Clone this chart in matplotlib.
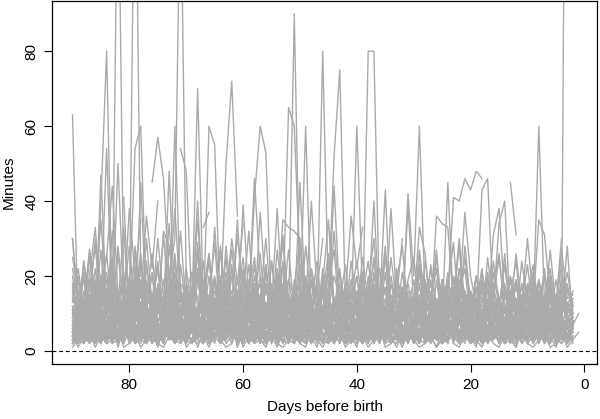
import matplotlib
matplotlib.use("Agg")
import matplotlib.pyplot as plt
import numpy as np

plt.rcParams['font.family'] = ['Liberation Sans', 'DejaVu Sans']

# minutos por día, una serie por sujeto (día 90 -> día 2)
d01 = [8,5,12,3,7,10,4,6,15,9, 5,3,8,11,6,4,9,7,13,5, 6,10,4,8,3,7,12,6,5,9, 4,8,11,5,3,7,10,6,14,8, 5,9,4,7,12,6,3,8,10,5, 7,4,9,13,6,5,8,3,11,7, 6,10,4,8,5,12,7,3,9,6, 8,5,11,4,7,10,6,3,9,5, 7,12,4,8,6,10,5,7,9]
d02 = [3,9,6,14,5,2,8,11,4,7, 10,6,3,9,5,12,7,4,8,6, 2,11,7,5,9,3,6,10,4,8, 13,5,7,2,9,6,11,4,8,3, 10,7,5,12,4,6,9,3,7,11, 5,8,2,10,6,4,9,7,13,5, 3,8,6,11,4,7,2,9,5,10, 6,3,8,12,5,7,4,9,6,3, 11,5,8,4,7,10,3,6,8]
d03 = [18,7,4,10,22,9,5,13,8,16, 6,11,19,7,4,14,9,21,6,10, 15,5,8,17,12,6,20,9,4,13, 7,16,10,5,18,8,12,24,6,9, 14,5,11,19,7,10,4,16,8,13, 6,21,9,5,12,17,7,10,15,4, 9,18,6,11,14,5,20,8,10,16, 6,13,4,19,9,7,15,11,5,12, 17,8,6,14,10,5,18,9,7]
d04 = [5,2,6,4,9,3,5,7,2,8, 4,6,3,10,5,2,7,4,6,9, 3,5,8,2,6,4,11,3,7,5, 2,9,4,6,3,8,5,2,7,4, 10,3,6,5,2,8,4,7,3,9, 5,2,6,4,8,3,7,5,2,10, 4,6,3,9,5,2,7,4,8,3, 6,5,2,9,4,7,3,6,5,8, 2,4,7,3,6,5,9,2,4]
d05 = [12,8,20,6,11,15,9,25,7,13, 10,18,6,9,14,22,8,12,7,16, 11,5,19,9,13,8,27,10,6,15, 12,9,17,7,21,11,8,14,6,10, 19,7,13,24,9,11,6,16,8,12, 20,7,10,15,9,6,18,11,8,13, 7,23,10,9,14,6,12,17,8,11, 15,9,6,21,10,13,7,16,9,12, 8,19,11,6,14,9,17,7,10]
d06 = [2,4,3,6,2,5,3,7,4,2, 6,3,5,2,8,4,3,6,2,5, 4,7,3,2,6,4,5,3,9,2, 4,6,3,5,2,7,4,3,6,2, 5,8,3,4,2,6,3,5,7,2, 4,3,6,2,5,4,8,3,2,6, 3,5,4,2,7,3,6,4,2,5, 3,8,2,4,6,3,5,2,7,4, 3,6,2,5,4,3,7,2,4]
d07 = [9,14,6,11,8,17,5,10,13,7, 16,9,6,12,20,8,11,5,15,9, 7,13,10,18,6,9,12,8,23,7, 11,14,6,10,9,16,7,12,5,19, 10,8,13,6,15,9,11,22,7,10, 14,6,9,17,8,12,5,11,16,9, 7,13,10,6,19,8,12,9,15,6, 10,14,7,11,18,8,6,13,10,9, 16,7,12,5,11,14,8,10,6]
d08 = [4,7,10,5,3,8,6,12,4,9, 5,3,7,11,6,4,8,13,5,7, 3,9,6,4,10,7,5,3,8,12, 6,4,9,5,7,3,11,6,8,4, 5,10,3,7,6,9,4,12,5,8, 3,6,10,4,7,5,9,3,8,11, 6,4,7,5,13,3,8,6,4,9, 7,5,10,3,6,8,4,11,5,7, 3,9,6,4,8,5,10,3,6]
d09 = [30,12,8,17,10,6,14,21,9,11, 7,15,26,8,12,10,19,6,13,9, 22,11,7,16,10,14,8,28,12,6, 10,17,9,13,7,24,11,8,15,10, 6,18,12,9,20,7,11,14,8,16, 10,6,13,25,9,11,7,17,10,12, 8,21,9,14,6,11,16,8,19,10, 7,13,22,9,11,6,15,10,8,18, 12,7,14,9,20,6,11,13,8]
d10 = [6,3,5,8,4,6,2,7,5,9, 3,6,4,8,5,2,7,6,4,10, 5,3,8,4,6,7,2,5,9,4, 6,3,7,5,8,2,6,4,9,5, 3,7,6,4,8,5,2,10,6,3, 7,5,4,8,6,3,9,5,7,2, 6,4,8,5,3,7,6,9,4,5, 2,8,6,3,7,5,4,9,6,3, 5,8,4,7,2,6,5,3,8]
d11 = [14,10,24,8,16,12,19,9,28,13, 11,17,8,22,14,10,31,12,9,18, 15,11,26,8,13,20,10,16,12,35, 9,14,18,11,23,8,15,12,19,10, 28,13,9,17,11,21,14,8,16,12, 10,25,13,18,9,14,11,22,8,16, 13,10,19,12,27,9,15,11,17,14, 8,20,12,10,24,13,16,9,18,11, 14,21,10,15,8,19,12,13,11]
d12 = [3,6,2,4,7,3,5,2,6,4, 8,3,5,2,4,7,3,6,2,5, 4,3,7,2,5,4,6,3,8,2, 5,4,3,6,2,7,4,5,3,2, 6,4,8,3,5,2,4,6,3,7, 2,5,4,3,6,8,2,4,5,3, 7,2,6,4,3,5,2,8,4,6, 3,5,2,7,4,3,6,5,2,4, 8,3,5,2,6,4,3,7,2]
d13 = [10,16,7,12,9,20,6,11,15,8, 13,9,18,7,10,14,6,12,9,17, 8,11,22,7,13,10,15,9,6,12, 19,8,10,14,7,11,16,9,13,6, 10,18,8,12,15,7,9,21,11,8, 14,10,6,13,17,9,11,7,15,10, 12,8,19,6,10,14,9,12,7,16, 11,8,13,20,9,10,7,15,12,8, 11,17,6,13,9,10,14,8,12]
d14 = [5,9,4,7,12,5,8,3,10,6, 4,8,13,5,7,3,9,6,11,4, 7,5,10,3,8,6,12,4,9,5, 7,11,3,6,8,4,10,5,7,13, 4,6,9,3,8,5,11,7,4,6, 9,3,7,12,5,8,4,10,6,3, 8,5,11,4,7,9,3,6,10,5, 8,4,7,12,3,6,9,5,8,4, 10,6,3,8,5,11,4,7,6]
d15 = [20,8,13,27,10,15,9,19,12,33, 8,14,11,24,9,17,13,8,21,11, 16,9,29,12,10,18,8,14,22,11, 9,16,13,26,10,8,19,12,15,9, 23,11,14,8,18,10,32,12,9,16, 11,20,8,14,10,25,13,9,17,11, 8,22,12,15,9,19,10,13,28,8, 14,11,17,9,21,12,10,16,8,24, 13,9,18,11,15,8,20,12,9]
d16 = [2,5,3,8,4,2,6,3,5,7, 2,4,6,3,9,2,5,4,3,7, 2,6,4,5,3,8,2,4,6,3, 5,2,7,4,3,6,2,9,4,5, 3,2,6,4,7,3,5,2,8,4, 3,6,2,5,4,7,3,2,6,5, 4,3,8,2,5,6,3,4,2,7, 5,3,6,2,4,8,3,5,2,6, 4,3,7,5,2,6,4,3,5]
d17 = [7,11,5,9,14,6,10,4,12,8, 6,15,9,5,11,7,13,4,10,8, 12,6,9,16,5,8,11,7,14,6, 9,4,12,8,10,6,17,7,11,5, 8,13,6,10,9,5,14,7,12,8, 4,11,9,6,15,7,10,5,13,8, 6,12,9,4,11,7,16,8,10,5, 9,13,6,11,7,14,8,5,12,9, 6,10,15,7,8,11,5,9,7]
d18 = [4,3,6,5,2,7,4,9,3,5, 6,2,8,4,5,3,7,6,2,4, 9,5,3,6,4,8,2,5,7,3, 4,6,2,9,5,3,7,4,6,2, 5,8,3,4,6,7,2,5,3,9, 4,6,5,2,8,3,4,7,5,2, 6,3,9,4,5,2,7,6,3,4, 8,5,2,6,4,3,7,5,9,2, 4,6,3,5,8,2,4,6,3]
d19 = [15,22,11,9,18,13,26,10,14,19, 12,8,23,15,11,17,9,28,13,10, 16,21,12,9,14,19,11,25,8,15, 13,10,20,12,17,9,14,31,11,16, 10,19,13,8,22,14,11,18,9,15, 24,12,10,17,13,9,20,11,16,14, 10,27,12,15,9,19,13,11,22,10, 16,12,18,9,14,25,11,13,17,10, 15,20,12,9,16,11,14,18,10]
d20 = [6,9,5,12,7,4,10,8,5,13, 7,6,9,4,11,8,5,7,12,6, 9,5,10,7,4,13,6,8,5,11, 7,9,4,12,6,8,10,5,7,14, 6,9,5,11,8,4,10,7,6,12, 5,9,7,4,13,8,6,10,5,9, 7,12,4,8,6,11,9,5,7,13, 6,8,4,10,7,9,5,12,6,8, 11,4,7,9,6,10,5,8,7]
d21 = [11,7,9,13,8,18,10,6,14,9, 20,8,12,10,7,16,11,9,24,8, 13,10,7,15,12,9,19,8,11,14, 7,10,17,9,12,8,22,10,13,7, 11,15,9,8,18,12,10,7,14,9, 13,11,8,21,10,7,12,16,9,11, 8,14,10,19,7,12,9,11,15,8, 10,13,7,17,9,11,8,14,10,12, 9,16,8,11,13,7,10,12,9]
d22 = [2,3,5,2,4,3,6,2,3,4, 5,2,3,7,2,4,3,5,2,6, 3,2,4,5,2,3,6,2,4,3, 5,2,7,3,2,4,5,3,2,6, 3,4,2,5,3,2,6,4,2,3, 5,2,4,3,7,2,3,5,2,4, 6,3,2,4,5,2,3,6,2,4, 3,5,2,3,4,6,2,3,5,2, 4,3,6,2,5,3,2,4,3]
d23 = [9,6,16,11,7,13,21,8,10,15, 9,12,7,18,10,14,8,11,26,9, 13,7,10,16,12,8,14,9,20,11, 7,13,10,15,8,24,12,9,11,17, 8,10,14,7,19,12,9,13,10,8, 16,11,7,14,22,9,12,10,8,15, 11,9,17,7,13,10,21,8,12,14, 9,11,7,16,10,13,8,19,11,9, 14,7,12,10,17,8,13,11,9]
d24 = [5,7,4,6,9,3,5,8,4,6, 10,5,3,7,4,6,9,5,3,8, 4,6,5,11,3,7,4,6,8,5, 3,9,4,6,5,7,3,10,4,6, 5,8,3,7,4,5,9,6,3,4, 7,5,6,10,4,3,8,5,6,4, 9,3,5,7,4,6,3,8,5,4, 6,10,3,5,7,4,6,9,3,5, 4,7,6,3,8,5,4,6,7]
e01 = [7,3,9,5,2,11,6,4,8,3, 12,5,7,2,9,4,10,6,3,8, 5,13,4,7,2,6,9,3,11,5, 8,2,6,10,4,7,3,12,5,9, 2,6,8,4,11,3,7,5,10,2, 6,9,4,8,3,12,5,7,2,10, 4,6,9,3,7,5,11,2,8,4, 6,10,3,7,5,9,2,8,4,12, 6,3,9,5,7,2,10,4,6]
e02 = [10,4,7,13,5,9,3,8,16,6, 4,11,7,5,14,3,9,6,12,4, 8,17,5,10,3,7,13,6,4,9, 15,5,8,3,11,7,4,18,6,9, 5,12,3,8,6,14,4,10,7,5, 13,3,9,6,16,4,8,11,5,7, 3,12,6,9,4,15,7,5,10,3, 8,13,6,4,11,7,5,14,3,9, 6,10,4,12,7,5,9,3,8]
e03 = [1,3,2,5,1,4,2,3,6,1, 2,4,1,3,5,2,1,4,2,7, 1,3,2,4,1,5,3,1,2,6, 1,4,2,3,1,5,2,1,3,4, 2,1,6,3,1,4,2,5,1,3, 2,4,1,3,6,1,2,4,1,5, 3,1,2,4,1,3,7,2,1,4, 2,3,1,5,2,1,4,3,1,6, 2,1,3,4,1,2,5,1,3]
e04 = [13,19,9,25,12,8,16,22,10,14, 28,11,9,17,13,24,8,15,19,11, 9,21,14,10,26,12,8,18,13,16, 10,23,9,14,30,11,13,8,19,15, 12,9,22,14,10,17,27,9,13,11, 16,8,20,12,15,10,25,13,9,18, 11,14,8,23,12,16,10,19,9,28, 13,11,17,8,21,14,10,15,24,9, 12,18,10,14,22,11,9,16,13]
e05 = [4,8,2,6,10,3,7,5,9,2, 6,4,11,3,8,5,2,7,9,4, 3,10,6,2,8,4,7,3,12,5, 2,6,9,4,7,3,5,10,2,8, 4,6,3,11,5,2,9,7,4,3, 8,6,2,10,5,4,7,3,9,6, 2,8,5,4,11,3,6,7,2,9, 4,5,8,3,10,6,2,7,4,9, 3,5,11,2,6,8,4,3,7]
e06 = [16,11,21,8,13,18,10,32,9,15, 12,20,7,14,26,10,12,17,8,23, 11,15,9,19,13,29,8,12,16,10, 22,9,14,11,18,8,27,13,10,15, 9,20,12,16,8,24,11,14,10,19, 13,8,17,30,10,12,15,9,21,11, 14,8,18,12,25,10,13,9,16,22, 8,12,19,11,14,9,26,10,13,17, 9,15,11,20,8,13,16,10,12]
e07 = [3,5,8,2,4,7,3,6,2,9, 4,3,6,8,2,5,4,7,3,2, 6,9,4,3,5,2,8,4,6,3, 7,2,5,4,10,3,6,2,4,8, 3,5,7,2,4,6,3,9,2,5, 4,7,3,6,2,8,5,3,4,7, 2,6,3,5,9,2,4,6,3,8, 5,2,7,4,3,6,2,5,9,3, 4,7,2,6,3,5,8,2,4]
e08 = [8,12,6,10,15,7,9,13,5,11, 8,17,6,10,12,7,14,9,5,11, 13,7,10,16,8,6,12,9,14,7, 11,5,9,13,8,18,6,10,12,7, 15,9,6,11,8,13,10,5,16,8, 12,7,9,14,6,10,11,8,17,7, 9,13,5,10,12,8,15,6,11,9, 7,14,10,6,12,8,16,9,7,11, 13,6,10,8,15,7,12,9,6]
e09 = [2,6,4,9,3,5,7,2,8,4, 6,3,10,5,2,7,4,9,3,6, 5,2,8,4,7,3,11,5,2,6, 4,9,3,7,5,2,8,6,3,10, 4,2,7,5,9,3,6,4,2,8, 5,3,10,4,7,2,6,9,3,5, 4,8,2,6,7,3,5,10,4,2, 9,6,3,7,4,5,8,2,6,3, 10,4,7,5,2,8,3,6,5]
e10 = [22,14,10,19,12,27,9,16,13,21, 10,15,24,11,8,18,13,34,10,14, 17,9,22,12,15,10,28,13,9,19, 11,16,25,10,13,8,20,14,11,17, 30,10,12,15,9,23,13,11,18,8, 14,21,10,16,12,26,9,13,15,11, 19,8,24,12,14,10,17,29,9,13, 11,20,15,8,16,12,23,10,14,9, 18,13,11,22,9,15,12,17,10]
e11 = [5,1,4,7,2,5,3,8,1,6, 3,4,2,7,5,1,6,3,9,2, 4,6,1,5,3,8,2,4,7,1, 5,3,6,2,9,4,1,5,3,7, 2,6,4,1,8,3,5,2,6,4, 1,7,3,5,2,9,4,1,6,3, 5,2,8,4,1,6,3,7,2,5, 4,1,9,3,6,2,5,4,1,7, 3,6,2,8,4,1,5,3,6]
e12 = [9,13,7,11,8,16,10,6,14,9, 12,7,19,10,8,13,11,6,15,9, 7,12,10,17,8,14,6,11,9,13, 20,8,10,12,7,15,9,11,6,14, 10,8,18,12,9,7,13,11,16,8, 6,12,10,14,9,21,7,11,8,13, 10,15,6,12,9,17,8,11,13,7, 10,14,9,6,16,11,8,12,19,7, 10,13,8,11,15,9,7,12,10]
e13 = [6,10,3,8,5,12,4,7,9,3, 11,6,4,8,13,5,7,3,10,6, 4,9,12,5,3,8,6,11,4,7, 3,10,5,8,6,14,4,7,3,9, 6,12,5,4,8,10,3,7,6,11, 4,9,5,3,8,12,6,4,10,7, 3,9,5,13,6,4,8,7,11,3, 5,10,6,4,9,7,3,12,5,8, 4,6,11,3,7,9,5,4,8]
e14 = [25,16,12,20,33,11,15,24,13,18, 10,28,14,19,12,22,9,17,38,13, 15,11,21,16,26,10,14,19,12,31, 15,11,23,9,17,13,20,12,27,10, 16,14,22,11,18,35,12,15,10,24, 13,17,11,20,14,28,10,16,12,19, 25,11,15,13,22,9,18,14,30,12, 16,10,21,13,17,26,11,14,19,12, 23,10,16,13,20,11,27,14,15]
e15 = [3,7,4,2,6,9,3,5,2,8, 4,6,3,2,7,5,10,3,4,6, 2,8,5,3,4,9,2,6,3,7, 5,2,4,8,3,6,2,5,9,4, 3,7,2,6,4,5,3,8,2,4, 6,3,9,5,2,7,4,3,6,2, 8,5,3,4,7,2,6,9,3,5, 2,4,8,3,6,5,2,7,4,3, 9,2,5,6,3,4,8,2,6]
e16 = [12,6,9,15,8,11,5,13,10,7, 18,9,6,12,14,8,10,7,16,11, 5,13,9,8,20,7,11,6,14,10, 8,12,17,6,9,13,7,15,10,5, 11,8,19,9,12,6,14,10,7,13, 9,16,5,11,8,12,10,18,6,9, 14,7,11,13,8,10,6,15,9,12, 7,17,10,8,13,6,11,14,9,7, 12,10,16,8,11,6,13,9,10]
e17 = [4,2,5,3,7,4,2,6,3,5, 8,2,4,6,3,5,2,7,4,3, 6,2,5,9,3,4,2,6,5,3, 7,4,2,5,3,8,2,4,6,3, 5,2,7,4,3,6,2,5,8,3, 4,2,6,3,5,7,2,4,3,6, 2,5,4,8,3,2,6,4,5,3, 7,2,4,6,3,5,2,8,4,3, 6,2,5,3,7,4,2,5,3]
e18 = [17,9,24,13,10,20,15,8,26,11, 14,19,9,30,12,16,10,22,13,8, 18,11,27,14,9,16,12,21,10,15, 25,9,13,18,11,14,8,23,12,17, 10,28,13,9,16,11,20,14,8,19, 12,15,24,10,13,17,9,21,11,14, 8,26,12,16,10,19,13,9,22,15, 11,17,8,25,12,14,10,20,13,9, 16,23,11,14,18,10,13,21,12]
e19 = [7,4,11,6,3,9,5,8,4,13, 6,3,10,7,5,12,4,8,6,3, 11,5,9,4,7,14,3,6,8,5, 10,4,7,12,3,9,6,5,11,4, 8,3,13,6,7,4,10,5,9,3, 7,12,4,8,6,3,11,5,9,7, 4,10,3,8,6,13,5,4,9,7, 3,11,6,5,8,4,12,7,3,9, 5,8,4,10,6,3,7,9,5]
e20 = [2,4,7,3,5,2,6,4,3,8, 2,5,3,6,4,2,9,3,5,4, 2,7,3,6,2,4,5,3,8,2, 6,4,3,5,2,7,4,6,3,2, 5,8,2,4,3,6,2,5,7,3, 4,2,6,3,8,4,2,5,3,6, 4,2,7,3,5,2,4,9,3,6, 2,5,4,3,7,2,6,3,4,5, 2,8,3,4,6,2,5,3,7]
e21 = [11,8,14,10,19,7,12,9,15,11, 8,22,10,13,7,16,12,9,18,10, 14,8,11,24,9,13,10,17,7,12, 15,9,11,20,8,13,10,16,12,9, 14,7,19,11,10,15,8,13,23,9, 12,10,17,8,14,11,9,21,12,10, 15,8,13,18,9,11,14,7,16,12, 10,20,9,13,11,8,17,12,10,15, 9,13,19,8,11,14,10,12,16]
e22 = [5,9,3,7,11,4,6,8,3,10, 5,7,4,12,6,3,9,5,8,4, 6,11,3,7,5,10,4,8,6,3, 9,5,13,4,7,6,3,10,5,8, 4,7,11,3,6,9,5,4,8,12, 3,6,7,5,10,4,8,3,9,6, 5,11,4,7,3,8,6,10,5,4, 9,7,3,12,6,5,8,4,10,3, 7,6,9,4,11,5,3,8,6]
e23 = [14,20,10,17,28,12,15,22,11,19, 13,26,10,16,21,12,9,18,14,32, 11,15,20,13,24,10,17,12,27,14, 10,19,15,12,23,9,16,29,11,14, 18,12,21,10,15,26,13,11,17,14, 20,10,13,24,12,16,11,19,28,10, 14,17,12,22,11,15,9,20,13,25, 11,16,14,10,21,13,18,11,26,12, 15,10,19,13,17,12,23,11,14]
e24 = [6,3,8,5,10,4,7,2,9,6, 4,11,5,3,8,6,2,10,4,7, 5,3,9,6,4,12,3,7,5,8, 2,6,10,4,7,3,9,5,6,4, 11,3,7,8,2,6,5,10,4,3, 9,7,5,2,8,6,4,11,3,7, 5,9,2,6,4,8,10,3,5,7, 4,6,9,2,8,5,3,7,10,4, 6,3,8,5,2,9,6,4,7]

# tramos con picos altos (días, minutos)
p01_d = [90, 89, 88]; p01_v = [63, 6, 4]
p02_d = [90, 89, 88, 87]; p02_v = [30, 12, 20, 8]
p03_d = [86, 85, 84, 83]; p03_v = [6, 40, 80, 9]
p04_d = [85, 84, 83, 82, 81]; p04_v = [12, 54, 10, 50, 14]
p05_d = [83, 82, 81]; p05_v = [9, 140, 16]
p06_d = [81, 80, 79, 78]; p06_v = [41, 10, 150, 20]
p07_d = [80, 79, 78, 77]; p07_v = [14, 54, 60, 12]
p08_d = [79, 78, 77]; p08_v = [8, 45, 10]
p09_d = [76, 75, 74, 73]; p09_v = [45, 57, 46, 20]
p10_d = [74, 73, 72]; p10_v = [10, 48, 12]
p11_d = [73, 72, 71, 70]; p11_v = [9, 60, 15, 6]
p12_d = [73, 72, 71, 70]; p12_v = [20, 30, 130, 18]
p13_d = [71, 70, 69]; p13_v = [54, 48, 12]
p14_d = [69, 68, 67, 66]; p14_v = [10, 70, 14, 8]
p15_d = [69, 68, 67]; p15_v = [12, 40, 9]
p16_d = [67, 66]; p16_v = [33, 37]
p17_d = [67, 66, 65, 64]; p17_v = [9, 60, 55, 10]
p18_d = [64, 63, 62, 61]; p18_v = [12, 50, 72, 36]
p19_d = [61, 60, 59]; p19_v = [10, 39, 14]
p20_d = [59, 58, 57, 56, 55]; p20_v = [12, 41, 60, 53, 10]
p21_d = [59, 58, 57]; p21_v = [14, 46, 20]
p22_d = [54, 53, 52, 51, 50, 49]; p22_v = [12, 35, 33, 32, 30, 14]
p23_d = [53, 52, 51, 50]; p23_v = [12, 65, 60, 22]
p24_d = [52, 51, 50]; p24_v = [10, 90, 12]
p25_d = [51, 50, 49]; p25_v = [10, 45, 12]
p26_d = [50, 49, 48]; p26_v = [12, 60, 10]
p27_d = [47, 46, 45]; p27_v = [10, 80, 14]
p28_d = [45, 44, 43, 42]; p28_v = [15, 52, 75, 12]
p29_d = [41, 40, 39]; p29_v = [10, 60, 15]
p30_d = [39, 38, 37, 36]; p30_v = [8, 80, 80, 10]
p31_d = [38, 37, 36]; p31_v = [12, 40, 9]
p32_d = [36, 35, 34]; p32_v = [12, 43, 9]
p33_d = [32, 31, 30, 29, 28]; p33_v = [10, 42, 20, 60, 14]
p34_d = [32, 31, 30]; p34_v = [10, 39, 12]
p35_d = [27, 26, 25, 24, 23]; p35_v = [10, 36, 34, 33, 12]
p36_d = [25, 24, 23]; p36_v = [9, 45, 11]
p37_d = [24, 23, 22, 21, 20, 19, 18]; p37_v = [15, 41, 40, 46, 43, 48, 46]
p38_d = [19, 18, 17, 16]; p38_v = [10, 43, 46, 12]
p39_d = [16, 15, 14, 13]; p39_v = [12, 34, 40, 9]
p40_d = [13, 12]; p40_v = [45, 31]
p41_d = [9, 8, 7]; p41_v = [10, 60, 12]
p42_d = [9, 8, 7, 6]; p42_v = [12, 35, 31, 14]
p43_d = [4, 3, 2]; p43_v = [10, 28, 6]
p44_d = [4, 3]; p44_v = [5, 250]
p45_d = [2, 1]; p45_v = [7, 10]
p46_d = [2, 1]; p46_v = [3, 5]
p47_d = [88, 87, 86, 85, 84]; p47_v = [10, 27, 15, 35, 12]
p48_d = [87, 86, 85, 84, 83, 82]; p48_v = [12, 30, 18, 25, 44, 15]
p49_d = [86, 85, 84]; p49_v = [8, 47, 11]
p50_d = [81, 80, 79, 78]; p50_v = [12, 38, 20, 35]
p51_d = [78, 77, 76, 75]; p51_v = [15, 36, 22, 40]
p52_d = [75, 74, 73]; p52_v = [10, 32, 28]
p53_d = [66, 65, 64]; p53_v = [10, 33, 12]
p54_d = [63, 62, 61, 60]; p54_v = [14, 30, 18, 34]
p55_d = [58, 57, 56]; p55_v = [10, 37, 15]
p56_d = [55, 54, 53]; p56_v = [12, 38, 11]
p57_d = [49, 48, 47, 46]; p57_v = [12, 40, 16, 30]
p58_d = [45, 44, 43]; p58_v = [10, 44, 13]
p59_d = [42, 41, 40, 39]; p59_v = [15, 36, 22, 33]
p60_d = [35, 34, 33, 32]; p60_v = [10, 38, 14, 30]
p61_d = [30, 29, 28, 27]; p61_v = [12, 33, 26, 10]
p62_d = [22, 21, 20, 19]; p62_v = [14, 37, 20, 12]
p63_d = [17, 16, 15, 14]; p63_v = [10, 31, 38, 14]
p64_d = [11, 10, 9]; p64_v = [12, 30, 14]
p65_d = [7, 6, 5, 4]; p65_v = [10, 27, 12, 30]
p66_d = [60, 59, 58]; p66_v = [14, 32, 10]
p67_d = [69, 68, 67]; p67_v = [13, 35, 14]
p68_d = [76, 75, 74]; p68_v = [12, 30, 14]

dense = [d01, d02, d03, d04, d05, d06, d07, d08, d09, d10, d11, d12,
         d13, d14, d15, d16, d17, d18, d19, d20, d21, d22, d23, d24,
         e01, e02, e03, e04, e05, e06, e07, e08, e09, e10, e11, e12,
         e13, e14, e15, e16, e17, e18, e19, e20, e21, e22, e23, e24]
peaks = [(p01_d, p01_v), (p02_d, p02_v), (p03_d, p03_v), (p04_d, p04_v),
         (p05_d, p05_v), (p06_d, p06_v), (p07_d, p07_v), (p08_d, p08_v),
         (p09_d, p09_v), (p10_d, p10_v), (p11_d, p11_v), (p12_d, p12_v),
         (p13_d, p13_v), (p14_d, p14_v), (p15_d, p15_v), (p16_d, p16_v),
         (p17_d, p17_v), (p18_d, p18_v), (p19_d, p19_v), (p20_d, p20_v),
         (p21_d, p21_v), (p22_d, p22_v), (p23_d, p23_v), (p24_d, p24_v),
         (p25_d, p25_v), (p26_d, p26_v), (p27_d, p27_v), (p28_d, p28_v),
         (p29_d, p29_v), (p30_d, p30_v), (p31_d, p31_v), (p32_d, p32_v),
         (p33_d, p33_v), (p34_d, p34_v), (p35_d, p35_v), (p36_d, p36_v),
         (p37_d, p37_v), (p38_d, p38_v), (p39_d, p39_v), (p40_d, p40_v),
         (p41_d, p41_v), (p42_d, p42_v), (p43_d, p43_v), (p44_d, p44_v),
         (p45_d, p45_v), (p46_d, p46_v), (p47_d, p47_v), (p48_d, p48_v),
         (p49_d, p49_v), (p50_d, p50_v), (p51_d, p51_v), (p52_d, p52_v),
         (p53_d, p53_v), (p54_d, p54_v), (p55_d, p55_v), (p56_d, p56_v),
         (p57_d, p57_v), (p58_d, p58_v), (p59_d, p59_v), (p60_d, p60_v),
         (p61_d, p61_v), (p62_d, p62_v), (p63_d, p63_v), (p64_d, p64_v),
         (p65_d, p65_v), (p66_d, p66_v), (p67_d, p67_v), (p68_d, p68_v)]

fig = plt.figure(figsize=(6.0, 4.19), dpi=100)
ax = fig.add_axes([0.0867, 0.131, 0.9083, 0.8675])

gris = '#aaaaaa'
for s in dense:
    s = s[:89]
    dias = 90 - np.arange(len(s))
    ax.plot(dias, s, color=gris, lw=1.0)
for dias, v in peaks:
    ax.plot(dias, v, color=gris, lw=1.0)

# línea de referencia en cero
ax.axhline(0, color='black', lw=0.8, dashes=(3.5, 2.5))

ax.set_xlim(93.6, -2.23)
ax.set_ylim(-3.5, 93.5)
ax.set_xticks([80, 60, 40, 20, 0])
ax.set_yticks([0, 20, 40, 60, 80])
ax.tick_params(direction='out', length=6, width=0.8, labelsize=11, pad=4)
for lab in ax.get_yticklabels():
    lab.set_rotation(90)
    lab.set_va('center')
for sp in ax.spines.values():
    sp.set_linewidth(0.9)

ax.set_xlabel('Days before birth', fontsize=11, labelpad=6)
ax.set_ylabel('Minutes', fontsize=11, labelpad=6)

fig.savefig('out.png', dpi=100)
